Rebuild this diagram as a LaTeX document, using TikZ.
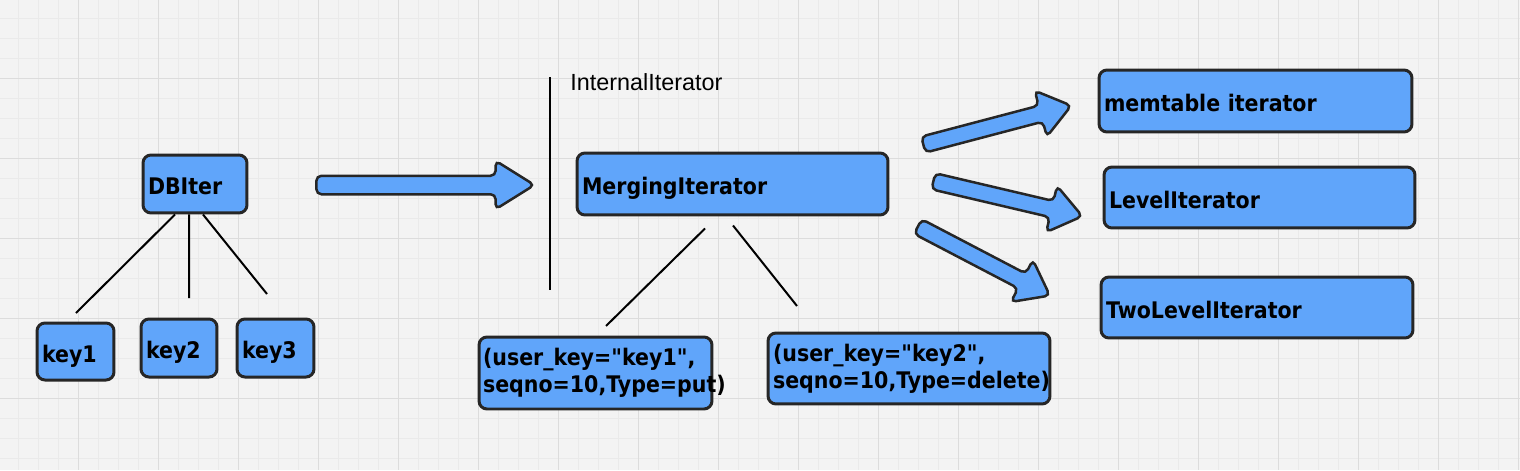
\documentclass[tikz,border=0pt]{standalone}
\usepackage{fontspec}
\usetikzlibrary{calc,shapes.arrows}
\newfontfamily\handfont[FakeStretch=0.9]{DejaVu Sans}
\newfontfamily\labelfont{Liberation Sans}
\definecolor{boxblue}{HTML}{60A5FA}
\definecolor{boxline}{HTML}{262626}
\definecolor{paper}{HTML}{F3F3F3}
\definecolor{minorline}{HTML}{EAEAEA}
\definecolor{majorline}{HTML}{DCDCDC}
\tikzset{
  box/.style={draw=boxline, fill=boxblue, line width=0.06cm, rounded corners=0.16cm,
    inner xsep=0.1cm, align=left, font=\handfont\bfseries\fontsize{13}{15.6}\selectfont},
  oneline/.style={text height=0.52cm, text depth=0.1cm},
  link/.style={line width=0.04cm, black},
  blockarrow/.style={single arrow, draw=boxline, fill=boxblue, line width=0.05cm,
    rounded corners=0.1cm, inner xsep=0pt, inner ysep=0.14cm,
    single arrow head extend=0.31cm, single arrow tip angle=74},
}
% fat arrow between two named points
\newcommand{\fatarrow}[4][]{%
  \path let \p1=($(#4)-(#3)$), \n1={veclen(\x1,\y1)}, \n2={atan2(\y1,\x1)} in
    node[blockarrow,#1,minimum height=\n1,rotate=\n2] (#2) at ($(#3)!0.5!(#4)$) {};}
\begin{document}
\begin{tikzpicture}[x=0.02cm, y=-0.02cm]
  \useasboundingbox (0,0) rectangle (1520,470);
  % grid paper
  \fill[paper] (0,0) rectangle (1520,470);
  \foreach \gx in {-2,18,...,1518} \draw[minorline, line width=0.02cm] (\gx,0) -- (\gx,470);
  \foreach \gy in {-2,18,...,478} \draw[minorline, line width=0.02cm] (0,\gy) -- (1520,\gy);
  \foreach \gx in {78,158,...,1518} \draw[majorline, line width=0.02cm] (\gx,0) -- (\gx,470);
  \foreach \gy in {78,158,...,478} \draw[majorline, line width=0.02cm] (0,\gy) -- (1520,\gy);

  % user side
  \node[box, oneline, text width=1.88cm, minimum height=1.16cm] (dbiter) at (195,184) {DBIter};
  \node[box, oneline, text width=1.34cm, minimum height=1.14cm] (key1) at (75.5,351.5) {key1};
  \node[box, oneline, text width=1.32cm, minimum height=1.16cm] (key2) at (179,348) {key2};
  \node[box, oneline, text width=1.34cm, minimum height=1.16cm] (key3) at (275.5,348) {key3};

  \coordinate (k1end) at (76,313);
  \coordinate (k2end) at (189,298);
  \coordinate (k3end) at (267,294);
  \draw[link] ([xshift=-0.4cm]dbiter.south) -- (k1end);
  \draw[link] ([xshift=-0.12cm]dbiter.south) -- (k2end);
  \draw[link] ([xshift=0.16cm]dbiter.south) -- (k3end);

  \coordinate (bigtail) at (309,185);
  \coordinate (bighead) at (527,185);
  \fatarrow[inner ysep=0.16cm, single arrow head extend=0.3cm, single arrow tip angle=64]{bigarrow}{bigtail}{bighead}

  % internal side
  \draw[link] (550,77) -- (550,290);
  \node[anchor=west, inner sep=0pt, font=\labelfont\fontsize{13.3}{16}\selectfont] (internallabel) at (570,82) {InternalIterator};

  \node[box, oneline, text width=6.02cm, minimum height=1.24cm] (merging) at (732.5,184) {MergingIterator};
  \node[box, text width=4.5cm, minimum height=1.44cm, inner xsep=0.08cm] (entry1) at (595.5,373)
    {(user\_key="key1",\\seqno=10,Type=put)};
  \node[box, text width=5.44cm, minimum height=1.42cm] (entry2) at (909,368.5)
    {(user\_key="key2",\\seqno=10,Type=delete)};

  \coordinate (e1end) at (606,326);
  \coordinate (e2end) at (797,306);
  \draw[link] ([xshift=-0.55cm, yshift=-0.24cm]merging.south) -- (e1end);
  \draw[link] ([xshift=0.01cm, yshift=-0.18cm]merging.south) -- (e2end);

  \node[box, oneline, text width=6.06cm, minimum height=1.24cm] (memtable) at (1255.5,101) {memtable iterator};
  \node[box, oneline, text width=6.02cm, minimum height=1.22cm] (level) at (1259.5,197.5) {LevelIterator};
  \node[box, oneline, text width=6.04cm, minimum height=1.22cm] (twolevel) at (1257,307.5) {TwoLevelIterator};

  \coordinate (memtail) at (918,146);
  \coordinate (memhead) at (1066,107);
  \coordinate (leveltail) at (928,180);
  \coordinate (levelhead) at (1077,215);
  \coordinate (twotail) at (913,224);
  \coordinate (twohead) at (1045,293);
  \fatarrow{memarrow}{memtail}{memhead}
  \fatarrow{levelarrow}{leveltail}{levelhead}
  \fatarrow{twoarrow}{twotail}{twohead}
\end{tikzpicture}
\end{document}
